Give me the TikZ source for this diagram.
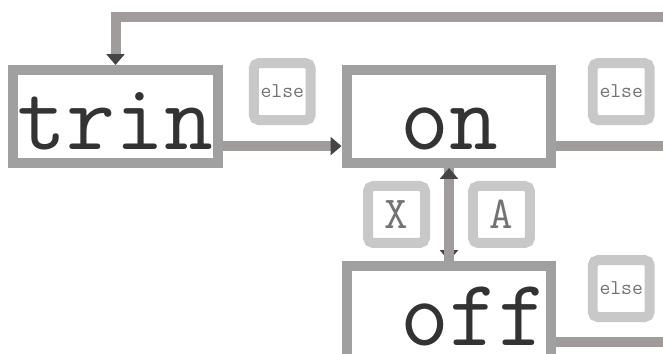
\documentclass[tikz,border=0pt]{standalone}
\usepackage{fontspec}
\usetikzlibrary{arrows.meta}
\definecolor{boxgray}{HTML}{A0A0A0}
\definecolor{linegray}{HTML}{A09C9C}
\definecolor{lblgray}{HTML}{C8C8C8}
\definecolor{tipgray}{HTML}{454545}
\definecolor{textgray}{HTML}{333333}
\tikzset{
    state/.style={rectangle, draw=boxgray, fill=white, line width=0.2cm, minimum width=4.1cm, minimum height=1.86cm, inner sep=0pt, text height=38pt, text depth=0pt, text=textgray, font=\fontsize{54pt}{54pt}\selectfont\ttfamily},
    lbl/.style={rectangle, rounded corners=3pt, draw=lblgray, fill=white, line width=0.2cm, minimum size=1.14cm, inner sep=0pt, text=black!55},
    lblword/.style={lbl, font=\fontsize{12pt}{12pt}\selectfont\ttfamily},
    lblchar/.style={lbl, font=\fontsize{26pt}{26pt}\selectfont\ttfamily},
    arrow/.style={-{Triangle[length=0.22cm, width=0.36cm, color=tipgray]}, line width=0.2cm, draw=linegray}
}
\begin{document}
\begin{tikzpicture}[x=0.02cm, y=0.02cm]
    \clip (0,0) rectangle (663,354);
    % states
    \node[state] (trin) at (115.5,237.5) {trin};
    \node[state] (on) at (449,237.5) {on};
    \node[state, text width=3.92cm, align=right] (off) at (449,41.5) {off};
    % loose ends beyond the right edge
    \coordinate (back) at (700,337);
    \coordinate (onout) at (686,0 |- on.mid);
    \coordinate (offout) at (686,0 |- off.mid);
    % transitions
    \draw[arrow] (back) -| (trin);
    \draw[arrow] (trin.mid east) -- node[lblword, above=0.42cm] {else} (on.mid west);
    \draw[arrow] (on.mid east) -- node[lblword, above=0.42cm] {else} (onout);
    \draw[arrow] (on) -- node[lblchar, left=0.38cm] {X} (off);
    \draw[arrow] (off) -- node[lblchar, right=0.38cm] {A} (on);
    \draw[arrow] (off.mid east) -- node[lblword, above=0.4cm] {else} (offout);
\end{tikzpicture}
\end{document}
